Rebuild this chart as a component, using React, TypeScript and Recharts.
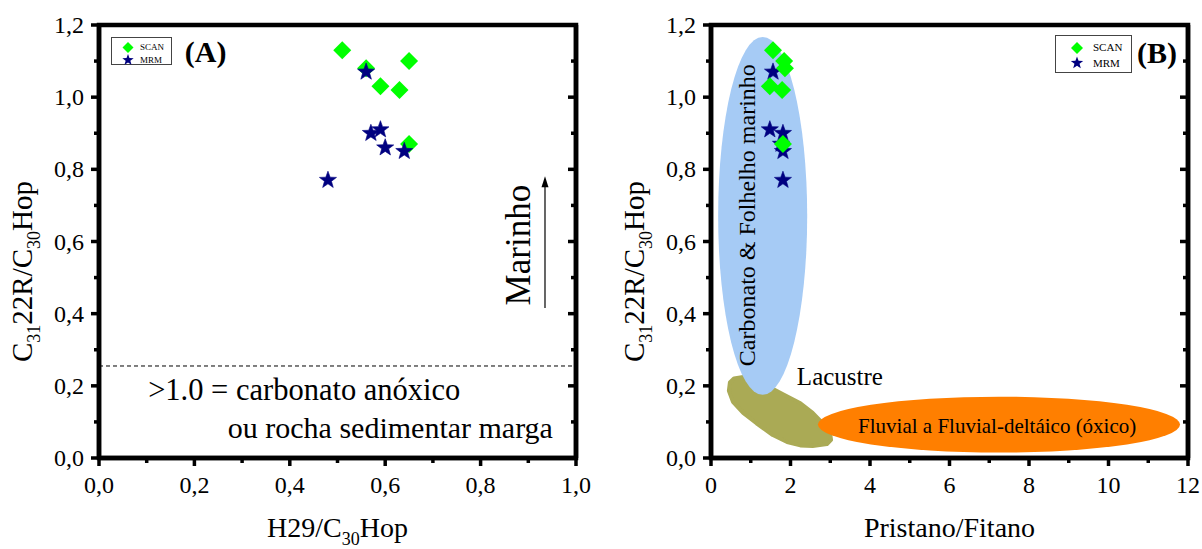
import React from 'react'
import { ScatterChart, Scatter, XAxis, YAxis, ReferenceArea, ReferenceLine, ReferenceDot } from 'recharts'

const FONT = "'Liberation Serif', 'Times New Roman', Times, serif"

// (A) H29/C30Hop vs C31 22R/C30Hop
const scanA = [
  { x: 0.51, y: 1.13 },
  { x: 0.56, y: 1.08 },
  { x: 0.65, y: 1.10 },
  { x: 0.59, y: 1.03 },
  { x: 0.63, y: 1.02 },
  { x: 0.65, y: 0.87 },
]
const mrmA = [
  { x: 0.56, y: 1.07 },
  { x: 0.57, y: 0.90 },
  { x: 0.59, y: 0.91 },
  { x: 0.60, y: 0.86 },
  { x: 0.64, y: 0.85 },
  { x: 0.48, y: 0.77 },
]

// (B) Pristano/Fitano vs C31 22R/C30Hop
const scanB = [
  { x: 1.56, y: 1.13 },
  { x: 1.84, y: 1.10 },
  { x: 1.86, y: 1.08 },
  { x: 1.48, y: 1.03 },
  { x: 1.79, y: 1.02 },
  { x: 1.81, y: 0.87 },
]
const mrmB = [
  { x: 1.56, y: 1.07 },
  { x: 1.48, y: 0.91 },
  { x: 1.81, y: 0.90 },
  { x: 1.76, y: 0.87 },
  { x: 1.81, y: 0.85 },
  { x: 1.81, y: 0.77 },
]

const yTicks = [0, 0.1, 0.2, 0.3, 0.4, 0.5, 0.6, 0.7, 0.8, 0.9, 1.0, 1.1, 1.2]
const xTicksA = [0, 0.1, 0.2, 0.3, 0.4, 0.5, 0.6, 0.7, 0.8, 0.9, 1.0]
const xTicksB = [0, 1, 2, 3, 4, 5, 6, 7, 8, 9, 10, 11, 12]
const seriesNames = ['SCAN', 'MRM']

const fmtDec = (v: number) => v.toFixed(1).replace('.', ',')
const fmtInt = (v: number) => String(v)
const majorTenths = (v: number) => Math.round(v * 10) % 2 === 0
const majorEven = (v: number) => Math.round(v) % 2 === 0

const starPts = (cx: number, cy: number, R: number, r: number) => {
  const pts: string[] = []
  for (let i = 0; i < 10; i++) {
    const rad = i % 2 === 0 ? R : r
    const a = -Math.PI / 2 + (i * Math.PI) / 5
    pts.push(`${cx + rad * Math.cos(a)},${cy + rad * Math.sin(a)}`)
  }
  return pts.join(' ')
}

const Diamond = (p: any) => (
  <polygon points={`${p.cx},${p.cy - 9} ${p.cx + 9},${p.cy} ${p.cx},${p.cy + 9} ${p.cx - 9},${p.cy}`} fill="#00FF00" />
)
const Star = (p: any) => (
  <polygon points={starPts(p.cx, p.cy, 9, 3.7)} fill="#000080" stroke="#000080" strokeWidth={0.6} />
)

const TICK_W = 3.5

const leftTick = (isMajor: (v: number) => boolean, fmt: (v: number) => string) => (p: any) => {
  const v = p.payload.value
  const major = isMajor(v)
  return (
    <g>
      <line x1={p.x - (major ? 8 : 5)} x2={p.x} y1={p.y} y2={p.y} stroke="#000" strokeWidth={TICK_W} />
      {major && (
        <text x={p.x - 15} y={p.y + 8} textAnchor="end" fontSize={24} fontFamily={FONT} fill="#000">{fmt(v)}</text>
      )}
    </g>
  )
}
const rightTick = (isMajor: (v: number) => boolean) => (p: any) => {
  const major = isMajor(p.payload.value)
  return <line x1={p.x - (major ? 8 : 5)} x2={p.x} y1={p.y} y2={p.y} stroke="#000" strokeWidth={TICK_W} />
}
const bottomTick = (isMajor: (v: number) => boolean, fmt: (v: number) => string) => (p: any) => {
  const v = p.payload.value
  const major = isMajor(v)
  return (
    <g>
      <line x1={p.x} x2={p.x} y1={p.y} y2={p.y + (major ? 8 : 5)} stroke="#000" strokeWidth={TICK_W} />
      {major && (
        <text x={p.x} y={p.y + 35} textAnchor="middle" fontSize={24} fontFamily={FONT} fill="#000">{fmt(v)}</text>
      )}
    </g>
  )
}

const yLabel = (offsetX: number) => (props: any) => {
  const vb = props.viewBox
  const x = vb.x + vb.width - offsetX
  const y = vb.y + 337
  return (
    <text transform={`rotate(-90 ${x} ${y})`} x={x} y={y} fontSize={29} fontFamily={FONT} fill="#000">
      C<tspan fontSize={18} dy={8}>31</tspan>
      <tspan dy={-8}>22R/C</tspan>
      <tspan fontSize={18} dy={8}>30</tspan>
      <tspan dy={-8}>Hop</tspan>
    </text>
  )
}

const xLabelA = (props: any) => {
  const vb = props.viewBox
  return (
    <text x={vb.x + vb.width / 2} y={vb.y + 79} textAnchor="middle" fontSize={28} fontFamily={FONT} fill="#000">
      H29/C<tspan fontSize={18} dy={8}>30</tspan>
      <tspan dy={-8}>Hop</tspan>
    </text>
  )
}
const xLabelB = (props: any) => {
  const vb = props.viewBox
  return (
    <text x={vb.x + vb.width / 2} y={vb.y + 79} textAnchor="middle" fontSize={28} fontFamily={FONT} fill="#000">
      Pristano/Fitano
    </text>
  )
}

const textAt = (label: string, opts: any) => (p: any) => (
  <text
    x={p.cx}
    y={p.cy}
    transform={opts.rotate ? `rotate(-90 ${p.cx} ${p.cy})` : undefined}
    textAnchor={opts.anchor || 'start'}
    fontSize={opts.size}
    fontWeight={opts.bold ? 'bold' : 'normal'}
    fontFamily={FONT}
    fill="#000"
  >
    {label}
  </text>
)

const ellipseShape = (fill: string) => (p: any) => (
  <ellipse cx={p.x + p.width / 2} cy={p.y + p.height / 2} rx={p.width / 2} ry={p.height / 2} fill={fill} />
)

const frameShape = (p: any) => (
  <rect x={p.x} y={p.y} width={p.width} height={p.height} fill="none" stroke="#000" strokeWidth={4.5} />
)

// outline of the lacustre field, relative to its bounding box
const blobOutline = [
  [0.05, 0.02], [0.14, 0.0], [0.27, 0.06], [0.4, 0.15], [0.53, 0.25], [0.7, 0.38], [0.82, 0.52],
  [0.92, 0.67], [0.99, 0.81], [1.0, 0.91], [0.96, 0.97], [0.82, 1.0], [0.7, 0.99], [0.57, 0.94],
  [0.43, 0.84], [0.27, 0.67], [0.14, 0.52], [0.04, 0.36], [0, 0.2], [0.01, 0.08],
]
const blobShape = (p: any) => (
  <polygon
    points={blobOutline.map(([u, v]) => `${p.x + u * p.width},${p.y + v * p.height}`).join(' ')}
    fill="#AAAA55"
    stroke="#AAAA55"
    strokeWidth={4}
    strokeLinejoin="round"
  />
)

const arrowHead = (p: any) => (
  <polygon points={`${p.cx},${p.cy} ${p.cx - 3.5},${p.cy + 11} ${p.cx + 3.5},${p.cy + 11}`} fill="#000" />
)

const axisLine = { stroke: '#000', strokeWidth: 4.5 }

function Axes(props: any) {
  const { xDomain, xTicks, isMajorX, fmtX, xLabel, yWidth } = props
  return [
    <XAxis
      key="xb"
      type="number"
      dataKey="x"
      domain={xDomain}
      ticks={xTicks}
      interval={0}
      height={91}
      tickSize={0}
      tickMargin={0}
      tickLine={false}
      axisLine={axisLine}
      tick={bottomTick(isMajorX, fmtX)}
      label={{ content: xLabel }}
      allowDataOverflow
    />,
    <YAxis
      key="yl"
      type="number"
      dataKey="y"
      domain={[0, 1.2]}
      ticks={yTicks}
      interval={0}
      width={yWidth}
      tickSize={0}
      tickMargin={0}
      tickLine={false}
      axisLine={axisLine}
      tick={leftTick(majorTenths, fmtDec)}
      label={{ content: yLabel(67) }}
      allowDataOverflow
    />,
    <YAxis
      key="yr"
      yAxisId="right"
      orientation="right"
      mirror
      type="number"
      domain={[0, 1.2]}
      ticks={yTicks}
      interval={0}
      tickSize={0}
      tickMargin={0}
      tickLine={false}
      axisLine={axisLine}
      tick={rightTick(majorTenths)}
      allowDataOverflow
    />,
  ]
}

function LegendBox({ left, top, w, h, fs, dx, d1, d2, tx, b1, b2, s }: any) {
  return (
    <svg style={{ position: 'absolute', left, top }} width={w} height={h}>
      <rect x={0.5} y={0.5} width={w - 1} height={h - 1} fill="#fff" stroke="#444" strokeWidth={1} />
      <polygon points={`${dx},${d1 - s} ${dx + s},${d1} ${dx},${d1 + s} ${dx - s},${d1}`} fill="#00FF00" />
      <polygon points={starPts(dx, d2, s + 0.5, (s + 0.5) * 0.41)} fill="#000080" />
      <text x={tx} y={b1} fontSize={fs} fontFamily={FONT} fill="#000">{seriesNames[0]}</text>
      <text x={tx} y={b2} fontSize={fs} fontFamily={FONT} fill="#000">{seriesNames[1]}</text>
    </svg>
  )
}

function PanelA() {
  return (
    <ScatterChart width={600} height={549} margin={{ top: 25, right: 24, bottom: 0, left: 0 }}>
      {Axes({ xDomain: [0, 1], xTicks: xTicksA, isMajorX: majorTenths, fmtX: fmtDec, xLabel: xLabelA, yWidth: 99 })}
      <ReferenceLine y={0.255} stroke="#000" strokeWidth={1} strokeDasharray="4 3" />
      <ReferenceLine segment={[{ x: 0.935, y: 0.416 }, { x: 0.935, y: 0.755 }]} stroke="#000" strokeWidth={1.2} />
      <ReferenceDot x={0.935} y={0.781} shape={arrowHead} />
      <ReferenceDot x={0.904} y={0.59} shape={textAt('Marinho', { size: 35, rotate: true, anchor: 'middle' })} />
      <ReferenceDot x={0.103} y={0.161} shape={textAt('>1.0 = carbonato anóxico', { size: 30.5 })} />
      <ReferenceDot x={0.27} y={0.055} shape={textAt('ou rocha sedimentar marga', { size: 30 })} />
      <ReferenceDot x={0.18} y={1.098} shape={textAt('(A)', { size: 30, bold: true })} />
      <Scatter name={seriesNames[0]} data={scanA} shape={Diamond} isAnimationActive={false} />
      <Scatter name={seriesNames[1]} data={mrmA} shape={Star} isAnimationActive={false} />
      <ReferenceArea x1={0} x2={1} y1={0} y2={1.2} shape={frameShape} />
    </ScatterChart>
  )
}

function PanelB() {
  return (
    <ScatterChart width={602} height={549} margin={{ top: 25, right: 14, bottom: 0, left: 0 }}>
      <ReferenceArea x1={0.45} x2={3.02} y1={0.033} y2={0.2245} shape={blobShape} />
      <ReferenceArea x1={0.18} x2={2.42} y1={0.175} y2={1.167} shape={ellipseShape('#A6CBF5')} />
      <ReferenceArea x1={2.69} x2={11.8} y1={0.015} y2={0.17} shape={ellipseShape('#FF7F00')} />
      {Axes({ xDomain: [0, 12], xTicks: xTicksB, isMajorX: majorEven, fmtX: fmtInt, xLabel: xLabelB, yWidth: 111 })}
      <ReferenceDot x={1.107} y={0.673} shape={textAt('Carbonato & Folhelho marinho', { size: 24, rotate: true, anchor: 'middle' })} />
      <ReferenceDot x={2.16} y={0.202} shape={textAt('Lacustre', { size: 25 })} />
      <ReferenceDot x={7.2} y={0.069} shape={textAt('Fluvial a Fluvial-deltáico (óxico)', { size: 21, anchor: 'middle' })} />
      <ReferenceDot x={10.72} y={1.095} shape={textAt('(B)', { size: 30, bold: true })} />
      <Scatter name={seriesNames[1]} data={mrmB} shape={Star} isAnimationActive={false} />
      <Scatter name={seriesNames[0]} data={scanB} shape={Diamond} isAnimationActive={false} />
      <ReferenceArea x1={0} x2={12} y1={0} y2={1.2} shape={frameShape} />
    </ScatterChart>
  )
}

export default function App() {
  return (
    <div style={{ position: 'absolute', left: 0, top: 0, width: 1202, height: 549, background: '#fff' }}>
      <div style={{ position: 'absolute', left: 0, top: 0 }}>
        <PanelA />
      </div>
      <div style={{ position: 'absolute', left: 600, top: 0 }}>
        <PanelB />
      </div>
      <LegendBox left={111} top={37} w={61} h={28} fs={9} dx={17} d1={10.5} d2={23} tx={29} b1={12.5} b2={26} s={5.5} />
      <LegendBox left={1055} top={35} w={77} h={38} fs={11} dx={22} d1={13} d2={28} tx={38} b1={16} b2={32} s={6} />
    </div>
  )
}
